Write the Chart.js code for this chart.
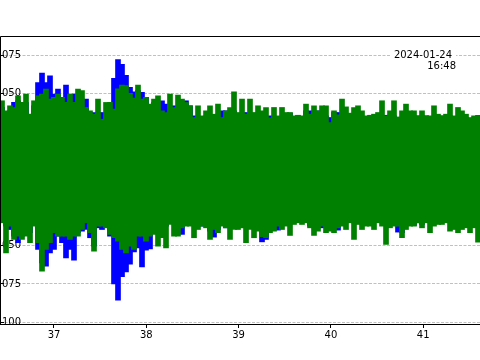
<!DOCTYPE html>
<html>
<head>
<meta charset="utf-8">
<script src="https://cdn.jsdelivr.net/npm/chart.js@4.4.1/dist/chart.umd.min.js"></script>
<style>
    html, body { margin: 0; padding: 0; background: #fff; overflow: hidden; }
    #wrap { position: relative; width: 480px; height: 360px; overflow: hidden; }
    #trace { position: absolute; left: -40px; top: 0; }
</style>
</head>
<body>
<div id="wrap"><canvas id="trace" width="520" height="360"></canvas></div>
<script>
// 波形包络（每 4px 一列），单位与 y 轴一致
const sampleStart = 36.4367;
const sampleStep = 0.043337;

const greenTop = [
    0.0452, 0.0386, 0.0419, 0.0408, 0.0485, 0.0441, 0.0496, 0.0364, 0.0452, 0.0485, 0.0496, 0.0529, 0.0463, 0.0474, 0.0496, 0.0474, 0.0441, 0.0496, 0.0441, 0.0529,
    0.0518, 0.0408, 0.0386, 0.0364, 0.0463, 0.0331, 0.0441, 0.0441, 0.0397, 0.0530, 0.0555, 0.0552, 0.0500, 0.0470, 0.0555, 0.0463, 0.0474, 0.0430, 0.0463, 0.0485,
    0.0386, 0.0375, 0.0496, 0.0408, 0.0489, 0.0463, 0.0441, 0.0419, 0.0342, 0.0419, 0.0353, 0.0386, 0.0419, 0.0364, 0.0430, 0.0342, 0.0386, 0.0408, 0.0511, 0.0375,
    0.0463, 0.0364, 0.0463, 0.0375, 0.0419, 0.0386, 0.0408, 0.0340, 0.0408, 0.0353, 0.0408, 0.0375, 0.0375, 0.0353, 0.0357, 0.0353, 0.0430, 0.0364, 0.0419, 0.0386,
    0.0419, 0.0419, 0.0309, 0.0386, 0.0360, 0.0463, 0.0412, 0.0371, 0.0408, 0.0419, 0.0386, 0.0353, 0.0357, 0.0364, 0.0375, 0.0452, 0.0353, 0.0386, 0.0452, 0.0346,
    0.0386, 0.0430, 0.0386, 0.0386, 0.0353, 0.0386, 0.0353, 0.0353, 0.0419, 0.0364, 0.0353, 0.0364, 0.0430, 0.0353, 0.0408, 0.0386, 0.0364, 0.0342, 0.0353, 0.0357
];
const greenBottom = [
    -0.0349, -0.0546, -0.0371, -0.0458, -0.0436, -0.0458, -0.0436, -0.0480, -0.0371, -0.0480, -0.0667, -0.0524, -0.0480, -0.0414, -0.0436, -0.0436, -0.0436, -0.0458, -0.0436, -0.0436,
    -0.0393, -0.0349, -0.0414, -0.0535, -0.0371, -0.0371, -0.0382, -0.0425, -0.0447, -0.0469, -0.0524, -0.0546, -0.0502, -0.0524, -0.0436, -0.0436, -0.0469, -0.0436, -0.0425, -0.0502,
    -0.0447, -0.0513, -0.0360, -0.0436, -0.0436, -0.0382, -0.0371, -0.0371, -0.0447, -0.0393, -0.0371, -0.0382, -0.0458, -0.0393, -0.0414, -0.0371, -0.0382, -0.0458, -0.0393, -0.0393,
    -0.0382, -0.0480, -0.0393, -0.0447, -0.0404, -0.0440, -0.0447, -0.0414, -0.0404, -0.0371, -0.0393, -0.0371, -0.0432, -0.0360, -0.0349, -0.0360, -0.0349, -0.0382, -0.0432, -0.0404,
    -0.0371, -0.0414, -0.0404, -0.0414, -0.0382, -0.0371, -0.0393, -0.0349, -0.0458, -0.0360, -0.0393, -0.0371, -0.0371, -0.0393, -0.0349, -0.0371, -0.0491, -0.0382, -0.0371, -0.0371,
    -0.0447, -0.0393, -0.0371, -0.0371, -0.0349, -0.0382, -0.0349, -0.0414, -0.0371, -0.0360, -0.0360, -0.0349, -0.0404, -0.0393, -0.0414, -0.0393, -0.0382, -0.0414, -0.0382, -0.0476
];
const blueTop = [
    0.0408, 0.0375, 0.0386, 0.0441, 0.0452, 0.0408, 0.0441, 0.0353, 0.0419, 0.0572, 0.0634, 0.0572, 0.0616, 0.0496, 0.0529, 0.0474, 0.0555, 0.0485, 0.0496, 0.0496,
    0.0463, 0.0463, 0.0375, 0.0375, 0.0375, 0.0375, 0.0364, 0.0430, 0.0600, 0.0722, 0.0691, 0.0619, 0.0540, 0.0511, 0.0518, 0.0507, 0.0474, 0.0419, 0.0441, 0.0375,
    0.0452, 0.0430, 0.0353, 0.0419, 0.0331, 0.0386, 0.0452, 0.0419, 0.0353, 0.0342, 0.0331, 0.0353, 0.0342, 0.0353, 0.0364, 0.0386, 0.0386, 0.0386, 0.0386, 0.0353,
    0.0353, 0.0375, 0.0353, 0.0371, 0.0342, 0.0353, 0.0342, 0.0353, 0.0342, 0.0314, 0.0342, 0.0364, 0.0371, 0.0342, 0.0353, 0.0342, 0.0386, 0.0386, 0.0353, 0.0386,
    0.0353, 0.0353, 0.0342, 0.0375, 0.0375, 0.0353, 0.0353, 0.0342, 0.0353, 0.0353, 0.0342, 0.0342, 0.0342, 0.0342, 0.0342, 0.0353, 0.0357, 0.0357, 0.0353, 0.0342,
    0.0314, 0.0331, 0.0342, 0.0353, 0.0353, 0.0353, 0.0353, 0.0287, 0.0309, 0.0342, 0.0353, 0.0342, 0.0353, 0.0320, 0.0342, 0.0353, 0.0342, 0.0331, 0.0342, 0.0342
];
const blueBottom = [
    -0.0338, -0.0371, -0.0393, -0.0436, -0.0480, -0.0436, -0.0393, -0.0414, -0.0338, -0.0524, -0.0612, -0.0634, -0.0546, -0.0524, -0.0436, -0.0480, -0.0579, -0.0524, -0.0594, -0.0414,
    -0.0404, -0.0393, -0.0447, -0.0502, -0.0382, -0.0393, -0.0327, -0.0436, -0.0750, -0.0856, -0.0703, -0.0671, -0.0620, -0.0540, -0.0513, -0.0638, -0.0528, -0.0520, -0.0349, -0.0393,
    -0.0382, -0.0371, -0.0327, -0.0338, -0.0349, -0.0425, -0.0349, -0.0349, -0.0349, -0.0371, -0.0371, -0.0327, -0.0404, -0.0443, -0.0393, -0.0338, -0.0382, -0.0371, -0.0338, -0.0349,
    -0.0338, -0.0349, -0.0349, -0.0349, -0.0349, -0.0474, -0.0458, -0.0393, -0.0360, -0.0397, -0.0349, -0.0338, -0.0349, -0.0349, -0.0338, -0.0327, -0.0338, -0.0371, -0.0382, -0.0382,
    -0.0382, -0.0338, -0.0349, -0.0349, -0.0397, -0.0349, -0.0349, -0.0338, -0.0349, -0.0338, -0.0349, -0.0338, -0.0316, -0.0338, -0.0305, -0.0338, -0.0349, -0.0349, -0.0338, -0.0410,
    -0.0414, -0.0349, -0.0349, -0.0366, -0.0349, -0.0360, -0.0338, -0.0327, -0.0327, -0.0338, -0.0338, -0.0338, -0.0338, -0.0349, -0.0349, -0.0349, -0.0349, -0.0349, -0.0360, -0.0349
];

// 刻度
const xTicks = [37, 38, 39, 40, 41];
const yTicks = [-0.100, -0.075, -0.050, -0.025, 0, 0.025, 0.050, 0.075];
const stampLines = ['2024-01-24', '16:48'];

Chart.defaults.font.family = 'DejaVu Sans';
Chart.defaults.font.size = 10;
Chart.defaults.color = '#000';

function toPoints(lo, hi) {
    return hi.map((v, i) => ({ x: sampleStart + i * sampleStep, y: [lo[i], v] }));
}

// 边框 + 时间标注
const framePlugin = {
    id: 'frame',
    afterDatasetsDraw(chart) {
        const { ctx, chartArea: a } = chart;
        ctx.save();
        ctx.strokeStyle = '#000';
        ctx.lineWidth = 1;
        ctx.beginPath();
        ctx.moveTo(a.left + 0.5, a.bottom + 0.5);
        ctx.lineTo(a.left + 0.5, a.top + 0.5);
        ctx.lineTo(a.right, a.top + 0.5);
        ctx.moveTo(a.left, a.bottom + 0.5);
        ctx.lineTo(a.right, a.bottom + 0.5);
        ctx.stroke();
        ctx.restore();
    },
    afterDraw(chart) {
        const { ctx, chartArea: a } = chart;
        const right = a.left + 454;
        ctx.save();
        ctx.fillStyle = '#fff';
        ctx.fillRect(a.left + 390, 49, 66, 12);
        ctx.fillStyle = '#000';
        ctx.font = '10px "DejaVu Sans"';
        ctx.textAlign = 'right';
        ctx.textBaseline = 'middle';
        ctx.fillText(stampLines[0], right - 2, 55);
        ctx.fillText(stampLines[1], right + 2, 66);
        ctx.restore();
    }
};

const ctx = document.getElementById('trace').getContext('2d');
new Chart(ctx, {
    type: 'bar',
    data: {
        datasets: [
            {
                label: 'blue',
                data: toPoints(blueBottom, blueTop),
                backgroundColor: '#0000ff',
                order: 2
            },
            {
                label: 'green',
                data: toPoints(greenBottom, greenTop),
                backgroundColor: '#008000',
                order: 1
            }
        ]
    },
    options: {
        responsive: false,
        animation: false,
        grouped: false,
        barThickness: 5,
        borderWidth: 0,
        layout: { padding: { top: 36, left: 0, right: 0, bottom: 0 } },
        plugins: {
            legend: { display: false },
            tooltip: { enabled: false }
        },
        scales: {
            x: {
                type: 'linear',
                offset: false,
                min: 36.415,
                max: 41.6154,
                afterBuildTicks: (s) => { s.ticks = xTicks.map(v => ({ value: v })); },
                afterFit: (s) => { s.height = 36; },
                grid: { drawOnChartArea: false, offset: false, tickLength: 4, tickColor: '#000', tickWidth: 1 },
                border: { display: false },
                ticks: { color: '#000', padding: 1, maxRotation: 0, callback: (v) => String(v) }
            },
            y: {
                min: -0.1013,
                max: 0.0877,
                afterBuildTicks: (s) => { s.ticks = yTicks.map(v => ({ value: v })); },
                afterFit: (s) => { s.width = 40; },
                grid: { color: '#b0b0b0', lineWidth: 0.8, tickLength: -4, tickColor: '#000', tickWidth: 1 },
                border: { display: false, dash: [3, 1.5] },
                ticks: {
                    color: '#000',
                    mirror: true,
                    padding: -16,
                    crossAlign: 'far',
                    callback: (v) => (v < 0 ? '\u2212' : '') + Math.abs(v).toFixed(3)
                }
            }
        }
    },
    plugins: [framePlugin]
});
</script>
</body>
</html>
